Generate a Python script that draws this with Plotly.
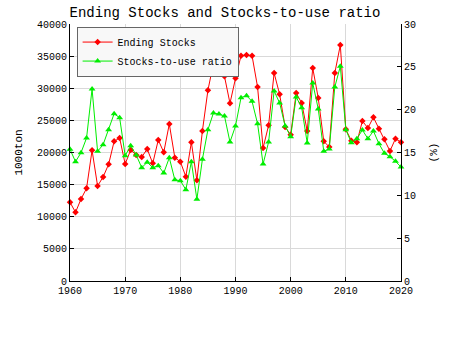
import plotly.graph_objects as go

years = list(range(1960, 2021))
ending_stocks = [
    12250, 10690, 12760, 14420, 20340, 14790, 16190, 18160, 21740, 22260,
    18210, 20390, 19610, 19300, 20540, 18310, 21950, 20030, 24440, 19200,
    18570, 16240, 21590, 15670, 23350, 29680, 33880, 33770, 31860, 27660,
    31540, 35070, 35170, 35070, 30190, 20700, 24230, 32370, 29050, 23970,
    22780, 29260, 27700, 23350, 33150, 28480, 21740, 20860, 32370, 36730,
    23610, 21840, 21590, 24900, 23810, 25470, 23710, 22050, 20230, 22150,
    21590,
]
stocks_to_use = [
    15.37, 13.93, 14.98, 16.69, 22.41, 15.14, 15.91, 17.66, 19.53, 19.06,
    14.63, 15.79, 14.71, 13.23, 13.86, 13.23, 13.46, 12.61, 14.39, 11.81,
    11.71, 10.66, 13.93, 9.54, 14.20, 17.66, 19.61, 19.49, 19.26, 16.22,
    18.09, 21.40, 21.63, 20.97, 18.36, 13.66, 16.22, 22.18, 20.78, 18.09,
    16.85, 21.48, 20.23, 16.11, 23.11, 20.08, 15.14, 15.41, 22.65, 25.06,
    17.66, 16.15, 16.61, 17.63, 16.61, 17.51, 16.03, 14.90, 14.51, 13.97,
    13.31,
]
x_ticks = [1960, 1970, 1980, 1990, 2000, 2010, 2020]

FONT = "Liberation Mono"

fig = go.Figure()
fig.add_trace(go.Scatter(
    x=years, y=ending_stocks, name="Ending Stocks", mode="lines+markers",
    line=dict(color="#ff0000", width=1),
    marker=dict(symbol="diamond", size=5, color="#ff0000"),
    cliponaxis=False,
))
fig.add_trace(go.Scatter(
    x=years, y=stocks_to_use, name="Stocks-to-use ratio", mode="lines+markers",
    line=dict(color="#00ee00", width=1),
    marker=dict(symbol="triangle-up", size=6, color="#00ee00"),
    yaxis="y2", cliponaxis=False,
))

fig.update_layout(
    width=450, height=350,
    margin=dict(l=70, r=49, t=24, b=69),
    paper_bgcolor="white", plot_bgcolor="white",
    font=dict(family=FONT, size=10, color="black"),
    title=dict(text="Ending Stocks and Stocks-to-use ratio", x=0.5, xanchor="center",
               y=1 - 12 / 350, yanchor="middle", font=dict(family=FONT, size=14)),
    showlegend=True,
    legend=dict(x=0.02, y=0.99, xanchor="left", yanchor="top",
                bgcolor="#f8f8f8", bordercolor="#666666", borderwidth=1,
                font=dict(family=FONT, size=10), tracegroupgap=0,
                itemwidth=30),
    xaxis=dict(range=[1960, 2020], tickvals=x_ticks, showgrid=True,
               gridcolor="#d9d9d9", gridwidth=1, showline=True, linecolor="black",
               linewidth=1, ticks="inside", ticklen=4, tickcolor="black",
               zeroline=False, tickfont=dict(size=10)),
    yaxis=dict(range=[0, 40000], dtick=5000, tickformat="d", showgrid=True,
               gridcolor="#d9d9d9",
               gridwidth=1, showline=True, linecolor="black", linewidth=1,
               ticks="inside", ticklen=4, tickcolor="black", zeroline=False,
               title=dict(text="1000ton", font=dict(size=11), standoff=12),
               tickfont=dict(size=10)),
    yaxis2=dict(range=[0, 30], dtick=5, overlaying="y", side="right",
                showgrid=False, showline=True, linecolor="black", linewidth=1,
                ticks="inside", ticklen=4, tickcolor="black", zeroline=False,
                title=dict(text="(%)", font=dict(size=11), standoff=14),
                tickfont=dict(size=10)),
)

fig.write_html("out.html")
